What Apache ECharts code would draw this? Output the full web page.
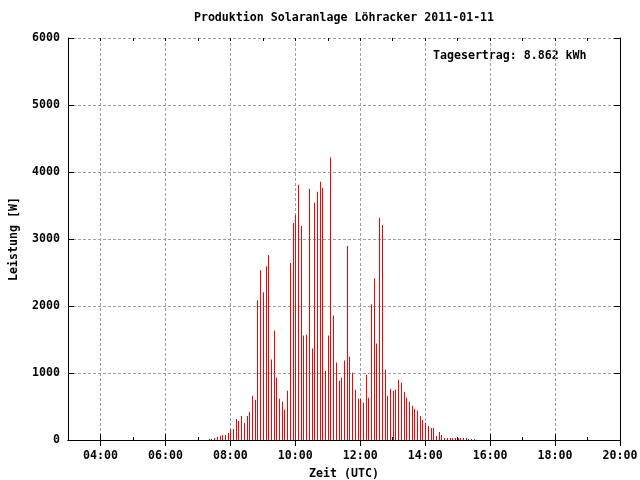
<!DOCTYPE html>
<html>
<head>
<meta charset="utf-8">
<script src="https://cdn.jsdelivr.net/npm/echarts@6/dist/echarts.min.js"></script>
<style>html,body{margin:0;padding:0;background:#fff}#c{width:640px;height:480px}</style>
</head>
<body>
<div id="c"></div>
<script>
const titleText = 'Produktion Solaranlage Löhracker 2011-01-11';
const yieldText = 'Tagesertrag: 8.862 kWh';
const xName = 'Zeit (UTC)';
const yName = 'Leistung [W]';
const xTickHours = [4, 6, 8, 10, 12, 14, 16, 18, 20];
const yTicks = [0, 1000, 2000, 3000, 4000, 5000, 6000];

const times = [
 '07:20','07:25','07:30','07:35','07:40','07:45','07:50','07:55',
 '08:00','08:05','08:10','08:15','08:20','08:25','08:30','08:35','08:40','08:45','08:50','08:55',
 '09:00','09:05','09:10','09:15','09:20','09:25','09:30','09:35','09:40','09:45','09:50','09:55',
 '10:00','10:05','10:10','10:15','10:20','10:25','10:30','10:35','10:40','10:45','10:50','10:55',
 '11:00','11:05','11:10','11:15','11:20','11:25','11:30','11:35','11:40','11:45','11:50','11:55',
 '12:00','12:05','12:10','12:15','12:20','12:25','12:30','12:35','12:40','12:45','12:50','12:55',
 '13:00','13:05','13:10','13:15','13:20','13:25','13:30','13:35','13:40','13:45','13:50','13:55',
 '14:00','14:05','14:10','14:15','14:20','14:25','14:30','14:35','14:40','14:45','14:50','14:55',
 '15:00','15:05','15:10','15:15','15:20','15:25','15:30'
];
const watts = [
 20, 20, 30, 50, 65, 75, 75, 105,
 165, 165, 315, 285, 360, 255, 360, 420, 660, 600, 2085, 2535,
 2205, 2595, 2760, 1200, 1635, 930, 615, 570, 450, 735, 2640, 3240,
 3360, 3810, 3195, 1560, 1575, 3750, 1365, 3540, 3705, 3855, 3765, 1035,
 1560, 4215, 1860, 1155, 885, 930, 1185, 2895, 1245, 1005, 750, 615,
 615, 555, 975, 630, 2025, 2415, 1440, 3315, 3210, 1050, 660, 765,
 735, 750, 900, 855, 720, 630, 570, 510, 465, 435, 360, 300,
 255, 210, 180, 180, 60, 120, 75, 30, 30, 30, 30, 30,
 30, 30, 30, 30, 15, 15, 15
];

function toHours(s) { const p = s.split(':'); return +p[0] + (+p[1]) / 60; }
const seriesData = times.map((t, i) => [toHours(t), watts[i]]);

const FONT = 'DejaVu Sans Mono';
const txt = { fontFamily: FONT, fontWeight: 'bold', fontSize: 11.6, color: '#000' };
const gridLine = { show: true, lineStyle: { color: '#a0a0a0', type: [3, 2], width: 1 } };
const blackLine = { show: true, lineStyle: { color: '#000', width: 1 } };

const chart = echarts.init(document.getElementById('c'), null, { renderer: 'canvas' });
chart.setOption({
  animation: false,
  backgroundColor: '#fff',
  grid: { left: 68, right: 20, top: 38, bottom: 40, containLabel: false, outerBoundsMode: 'none' },
  xAxis: [
    {
      type: 'value', position: 'bottom', min: 3, max: 20,
      axisLine: blackLine,
      axisTick: { show: true, inside: true, length: 6, customValues: xTickHours, lineStyle: { color: '#000' } },
      axisLabel: Object.assign({ customValues: xTickHours, margin: 10,
        formatter: v => String(v).padStart(2, '0') + ':00' }, txt),
      splitLine: gridLine,
      name: xName, nameLocation: 'middle', nameGap: 28, nameTextStyle: txt
    },
    {
      type: 'value', position: 'top', min: 3, max: 20,
      axisLine: blackLine,
      axisTick: { show: true, inside: true, length: 6, customValues: xTickHours, lineStyle: { color: '#000' } },
      axisLabel: { show: false }, splitLine: { show: false }
    },
    {
      type: 'value', position: 'bottom', min: 3, max: 20, interval: 1,
      axisLine: { show: false },
      axisTick: { show: true, inside: true, length: 3, lineStyle: { color: '#000' } },
      axisLabel: { show: false }, splitLine: { show: false }
    },
    {
      type: 'value', position: 'top', min: 3, max: 20, interval: 1,
      axisLine: { show: false },
      axisTick: { show: true, inside: true, length: 3, lineStyle: { color: '#000' } },
      axisLabel: { show: false }, splitLine: { show: false }
    }
  ],
  yAxis: [
    {
      type: 'value', position: 'left', min: 0, max: 6000, interval: 1000,
      axisLine: blackLine,
      axisTick: { show: true, inside: true, length: 6, lineStyle: { color: '#000' } },
      axisLabel: Object.assign({ margin: 8, formatter: v => String(v) }, txt),
      splitLine: gridLine,
      name: yName, nameLocation: 'middle', nameGap: 48, nameRotate: 90, nameTextStyle: txt
    },
    {
      type: 'value', position: 'right', min: 0, max: 6000, interval: 1000,
      axisLine: blackLine,
      axisTick: { show: true, inside: true, length: 6, lineStyle: { color: '#000' } },
      axisLabel: { show: false }, splitLine: { show: false }
    }
  ],
  series: [{
    type: 'custom',
    xAxisIndex: 0, yAxisIndex: 0,
    data: seriesData,
    renderItem: function (params, api) {
      const top = api.coord([api.value(0), api.value(1)]);
      const base = api.coord([api.value(0), 0]);
      const x = Math.round(top[0]);
      return {
        type: 'rect',
        shape: { x: x, y: top[1], width: 1, height: base[1] - top[1] },
        style: { fill: '#ff0000' }
      };
    }
  }],
  graphic: [
    { type: 'text', x: 344, y: 18, style: { text: titleText, align: 'center', verticalAlign: 'middle', fill: '#000', font: 'bold 11.6px "DejaVu Sans Mono"' } },
    { type: 'text', x: 433, y: 56, style: { text: yieldText, align: 'left', verticalAlign: 'middle', fill: '#000', font: 'bold 11.6px "DejaVu Sans Mono"' } }
  ]
});
</script>
</body>
</html>
